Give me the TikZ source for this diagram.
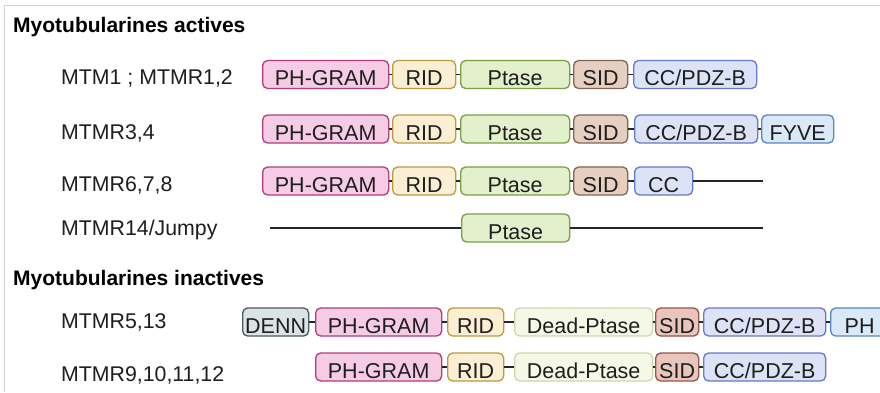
\documentclass[tikz,border=0pt]{standalone}
\usepackage{fontspec}
\setmainfont{Liberation Sans}
\usepackage{xcolor}
\usetikzlibrary{positioning, calc}

\definecolor{phfill}{HTML}{F6CBE5}
\definecolor{phline}{HTML}{AE3F78}
\definecolor{ridfill}{HTML}{FAEFD2}
\definecolor{ridline}{HTML}{BB9A42}
\definecolor{ptfill}{HTML}{E3F0CC}
\definecolor{ptline}{HTML}{7A9F43}
\definecolor{sidfill}{HTML}{E6CFC0}
\definecolor{sidline}{HTML}{846352}
\definecolor{sidbfill}{HTML}{E8C6BE}
\definecolor{sidbline}{HTML}{97544A}
\definecolor{ccfill}{HTML}{DCE3F7}
\definecolor{ccline}{HTML}{6679C6}
\definecolor{fyfill}{HTML}{DAE9F8}
\definecolor{fyline}{HTML}{5587C6}
\definecolor{denfill}{HTML}{DAE4E4}
\definecolor{denline}{HTML}{4A5A5A}
\definecolor{deadfill}{HTML}{F5F8E6}
\definecolor{deadline}{HTML}{CDD9AC}
\definecolor{txt}{HTML}{1E1E1E}

\tikzset{
    dom/.style={draw, rounded corners=5pt, line width=1.3pt, anchor=west,
        minimum height=28pt, inner sep=0pt, text height=24pt, text depth=1.5pt,
        text=txt, font=\fontsize{21.5}{24}\selectfont},
    phdom/.style={dom, draw=phline, fill=phfill},
    riddom/.style={dom, draw=ridline, fill=ridfill},
    ptdom/.style={dom, draw=ptline, fill=ptfill},
    siddom/.style={dom, draw=sidline, fill=sidfill},
    sidbdom/.style={dom, draw=sidbline, fill=sidbfill},
    ccdom/.style={dom, draw=ccline, fill=ccfill},
    fydom/.style={dom, draw=fyline, fill=fyfill},
    dendom/.style={dom, draw=denline, fill=denfill},
    deaddom/.style={dom, draw=deadline, fill=deadfill},
    lbl/.style={anchor=base west, inner sep=0pt, text=txt, font=\fontsize{21.3}{24}\selectfont},
    head/.style={lbl, text=black, font=\fontsize{21}{24}\selectfont\bfseries},
    link/.style={draw=black!85, line width=1.2pt}
}

\begin{document}
\begin{tikzpicture}[x=1pt, y=-1pt]
    \useasboundingbox[fill=white] (0,0) rectangle (880,392);
    \clip (0,0) rectangle (880,392);
    \draw[black!18, line width=1pt] (4,392) -- (4,5) -- (880,5);

    % titres
    \node[head] (hact) at (13,32) {Myotubularines actives};
    \node[head] (hinact) at (13,285) {Myotubularines inactives};

    % noms
    \node[lbl] (n1) at (61,84) {MTM1 ; MTMR1,2};
    \node[lbl] (n2) at (61,139) {MTMR3,4};
    \node[lbl] (n3) at (61,191) {MTMR6,7,8};
    \node[lbl] (n4) at (61,235) {MTMR14/Jumpy};
    \node[lbl] (n5) at (61,328) {MTMR5,13};
    \node[lbl] (n6) at (61,381) {MTMR9,10,11,12};

    % MTM1 ; MTMR1,2
    \node[phdom, minimum width=126pt] (ph1) at (262,74.5) {PH-GRAM};
    \node[riddom, minimum width=63pt] (rid1) at (392,74.5) {RID};
    \node[ptdom, minimum width=109pt] (pt1) at (460,74.5) {Ptase};
    \node[siddom, minimum width=54pt] (sid1) at (573,74.5) {SID};
    \node[ccdom, minimum width=123pt] (cc1) at (633,74.5) {CC/PDZ-B};

    % MTMR3,4
    \node[phdom, minimum width=126pt] (ph2) at (262,129) {PH-GRAM};
    \node[riddom, minimum width=63pt] (rid2) at (392,129) {RID};
    \node[ptdom, minimum width=109pt] (pt2) at (460,129) {Ptase};
    \node[siddom, minimum width=54pt] (sid2) at (573,129) {SID};
    \node[ccdom, minimum width=123pt] (cc2) at (634,129) {CC/PDZ-B};
    \node[fydom, minimum width=72pt] (fy2) at (761,129) {FYVE};

    % MTMR6,7,8
    \node[phdom, minimum width=126pt] (ph3) at (262,181) {PH-GRAM};
    \node[riddom, minimum width=63pt] (rid3) at (392,181) {RID};
    \node[ptdom, minimum width=109pt] (pt3) at (460,181) {Ptase};
    \node[siddom, minimum width=54pt] (sid3) at (573,181) {SID};
    \node[ccdom, minimum width=58pt] (cc3) at (634,181) {CC};
    \coordinate (end3) at (763,181);

    % MTMR14/Jumpy
    \coordinate (start4) at (270,228);
    \node[ptdom, minimum width=108pt] (pt4) at (461,228) {Ptase};
    \coordinate (end4) at (763,228);

    % MTMR5,13
    \node[dendom, minimum width=66pt] (den5) at (242,322) {DENN};
    \node[phdom, minimum width=126pt] (ph5) at (315,322) {PH-GRAM};
    \node[riddom, minimum width=56pt] (rid5) at (447,322) {RID};
    \node[deaddom, minimum width=138pt] (dead5) at (514,322) {Dead-Ptase};
    \node[sidbdom, minimum width=43pt] (sid5) at (655,322) {SID};
    \node[ccdom, minimum width=122pt] (cc5) at (703,322) {CC/PDZ-B};
    \node[fydom, minimum width=72pt, align=left, text width=60pt] (ph5b) at (830,322) {\hspace*{8pt}PH};

    % MTMR9,10,11,12
    \node[phdom, minimum width=126pt] (ph6) at (315,367) {PH-GRAM};
    \node[riddom, minimum width=56pt] (rid6) at (447,367) {RID};
    \node[deaddom, minimum width=138pt] (dead6) at (514,367) {Dead-Ptase};
    \node[sidbdom, minimum width=43pt] (sid6) at (655,367) {SID};
    \node[ccdom, minimum width=122pt] (cc6) at (703,367) {CC/PDZ-B};

    % liaisons
    \draw[link] (ph1) -- (rid1) (rid1) -- (pt1) (pt1) -- (sid1) (sid1) -- (cc1);
    \draw[link] (ph2) -- (rid2) (rid2) -- (pt2) (pt2) -- (sid2) (sid2) -- (cc2) (cc2) -- (fy2);
    \draw[link] (ph3) -- (rid3) (rid3) -- (pt3) (pt3) -- (sid3) (sid3) -- (cc3) (cc3) -- (end3);
    \draw[link] (start4) -- (pt4) (pt4) -- (end4);
    \draw[link] (den5) -- (ph5) (ph5) -- (rid5) (rid5) -- (dead5) (dead5) -- (sid5) (sid5) -- (cc5) (cc5) -- (ph5b);
    \draw[link] (ph6) -- (rid6) (rid6) -- (dead6) (dead6) -- (sid6) (sid6) -- (cc6);
\end{tikzpicture}
\end{document}
